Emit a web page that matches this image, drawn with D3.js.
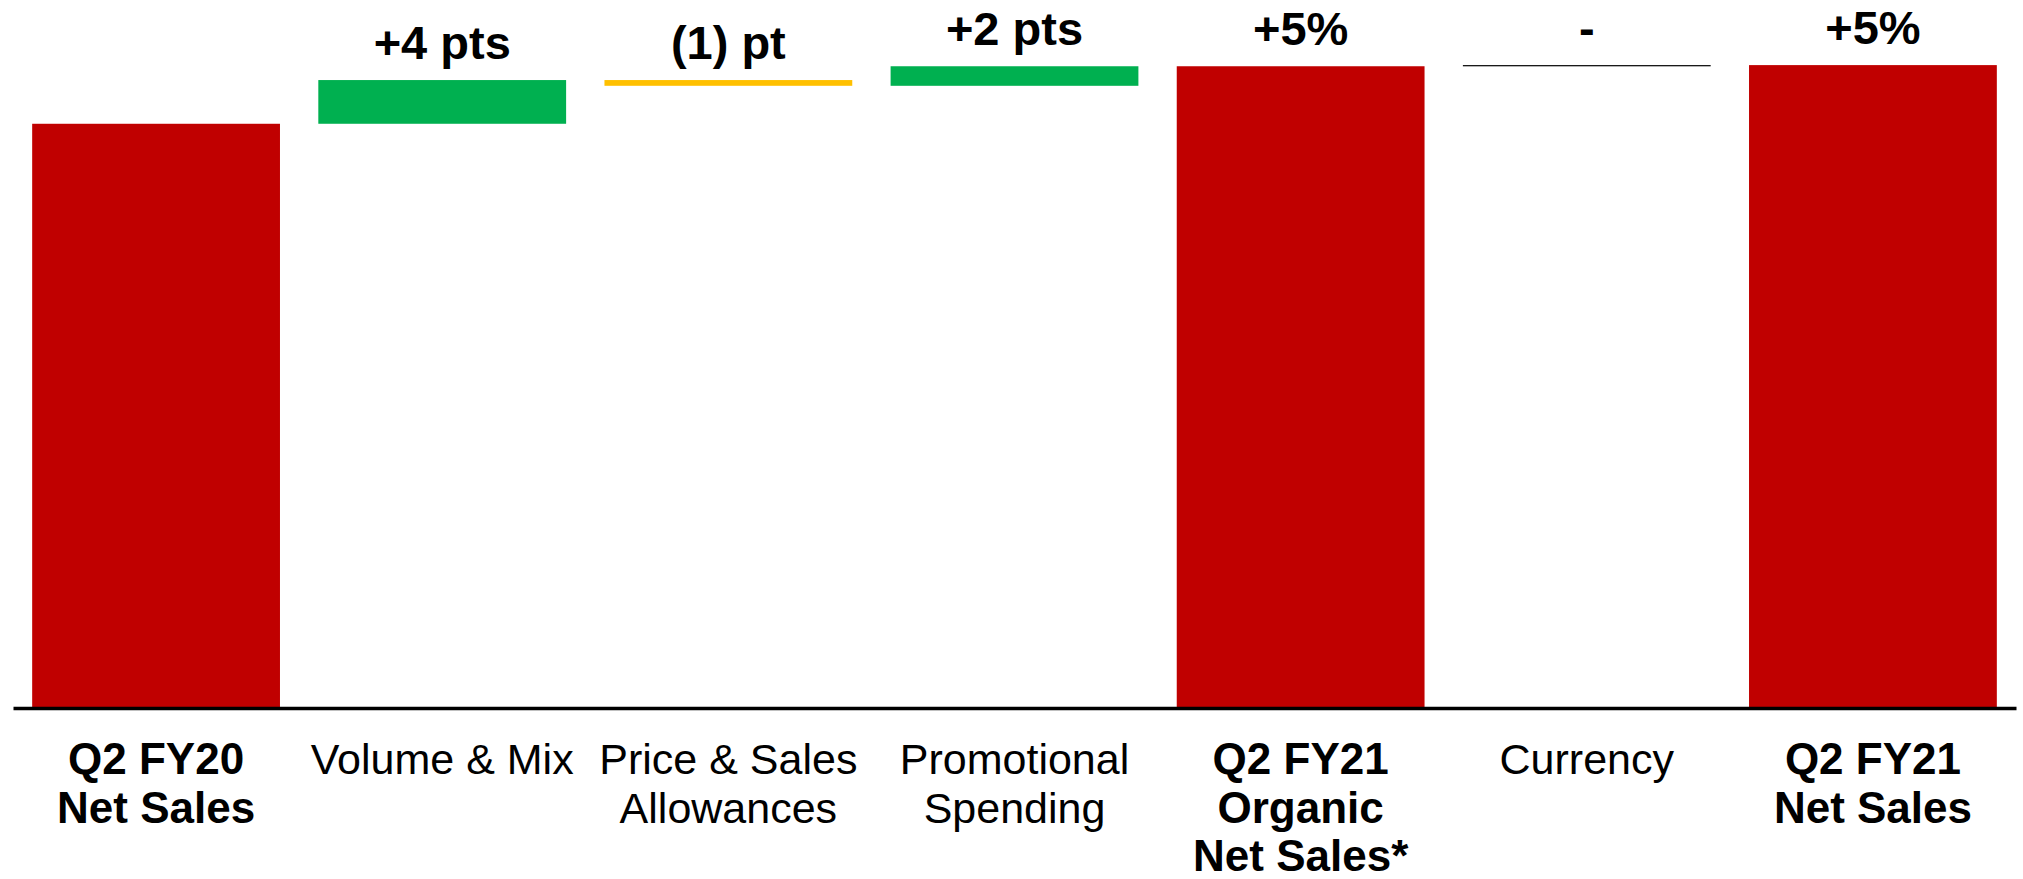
<!DOCTYPE html>
<html><head><meta charset="utf-8">
<script src="https://cdn.jsdelivr.net/npm/d3@7/dist/d3.min.js"></script>
<style>html,body{margin:0;padding:0;background:#fff;overflow:hidden;} svg{display:block;}</style>
</head><body>
<svg id="chart" width="2023" height="879"></svg>
<script>
// ---- data ----
const categories = [
  ["Q2 FY20", "Net Sales"],
  ["Volume & Mix"],
  ["Price & Sales", "Allowances"],
  ["Promotional", "Spending"],
  ["Q2 FY21", "Organic", "Net Sales*"],
  ["Currency"],
  ["Q2 FY21", "Net Sales"]
];
const barKinds = ["total", "increase", "decrease", "increase", "total", "neutral", "total"];
const values = [100, 3.8, -0.5, 1.7, 105.0, 0.1, 105.1];
const valueLabels = ["", "+4 pts", "(1) pt", "+2 pts", "+5%", "-", "+5%"];
const yDomain = [49.3, 105.1];

// ---- styles ----
const colors = {total: "#C00000", increase: "#00B050", decrease: "#FFC000", neutral: "#000000"};
const baseY = 707, topY = 65.1;
const font = "'Liberation Sans', Arial, Helvetica, sans-serif";

const svg = d3.select("#chart");

const x = d3.scaleBand()
  .domain(d3.range(categories.length))
  .range([13, 2016])
  .paddingInner(0.134)
  .paddingOuter(0.067);

const y = d3.scaleLinear().domain(yDomain).range([baseY, topY]);

// waterfall running totals
let running = 0;
const bars = values.map((v, i) => {
  let start, end;
  if (barKinds[i] === "total") { start = yDomain[0]; end = v; running = v; }
  else { start = running; end = running + v; running = end; }
  return {i, kind: barKinds[i], start, end, label: valueLabels[i]};
});

svg.append("g").selectAll("rect").data(bars).join("rect")
  .attr("x", d => x(d.i))
  .attr("width", x.bandwidth())
  .attr("y", d => y(Math.max(d.start, d.end)))
  .attr("height", d => Math.max(1.2, Math.abs(y(d.start) - y(d.end))))
  .attr("fill", d => colors[d.kind]);

// value labels
svg.append("g").selectAll("text").data(bars.filter(d => d.label)).join("text")
  .attr("x", d => x(d.i) + x.bandwidth() / 2)
  .attr("y", d => y(Math.max(d.start, d.end)) - 21)
  .attr("text-anchor", "middle")
  .attr("font-family", font)
  .attr("font-weight", "bold")
  .attr("font-size", 47)
  .attr("fill", "#000")
  .text(d => d.label);

// axis
const axis = d3.axisBottom(x).tickSize(0).tickSizeOuter(0).tickFormat(() => "");
const gAxis = svg.append("g").attr("transform", `translate(0,${baseY + 1})`).call(axis);
gAxis.select(".domain").attr("stroke", "#000").attr("stroke-width", 3.5);
gAxis.selectAll(".tick text").each(function(i) {
  const t = d3.select(this);
  const bold = barKinds[i] === "total";
  t.attr("dy", null).attr("y", null)
    .attr("font-family", font)
    .attr("font-size", bold ? 44 : 43)
    .attr("font-weight", bold ? "bold" : "normal")
    .attr("fill", "#000");
  categories[i].forEach((line, j) => {
    t.append("tspan").attr("x", 0).attr("y", 66 + j * 48.5).text(line);
  });
});
</script>
</body></html>
